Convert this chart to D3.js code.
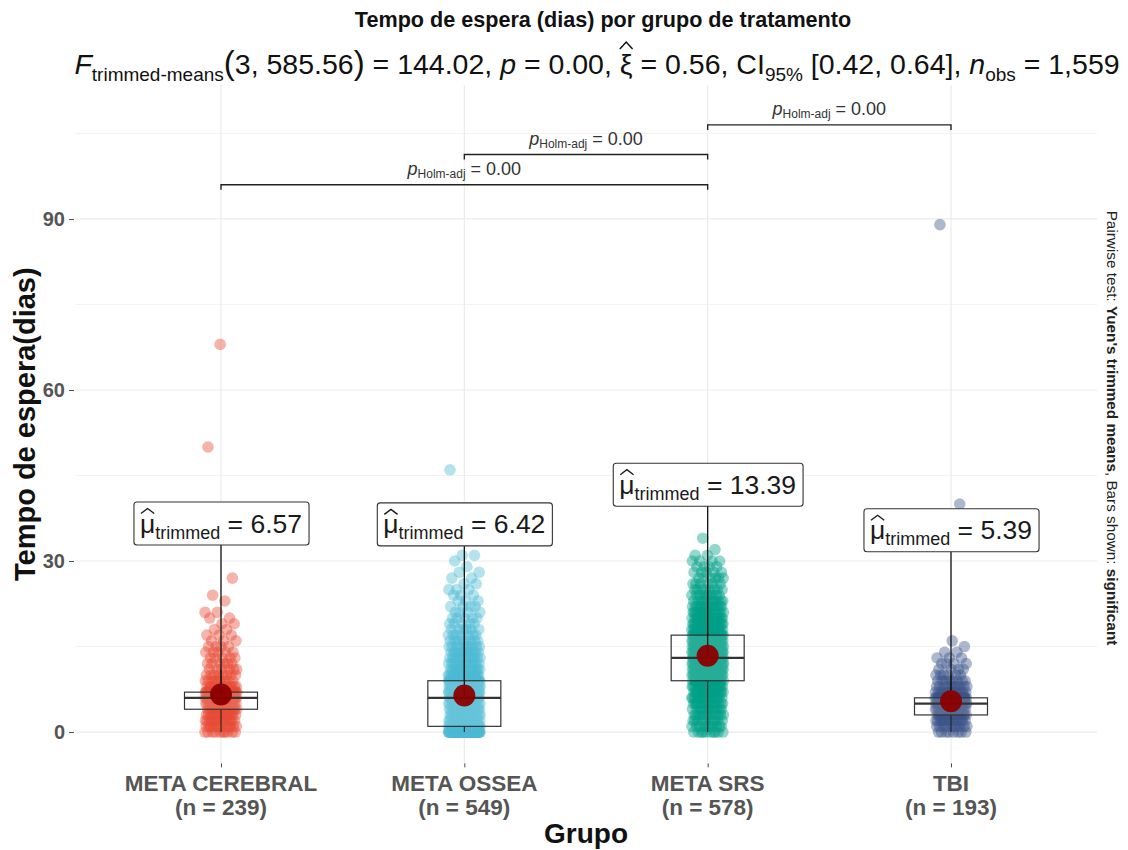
<!DOCTYPE html>
<html><head><meta charset="utf-8">
<script src="https://cdn.jsdelivr.net/npm/d3@7"></script>
<style>
body{margin:0;background:#fff}
svg{display:block}
text{font-family:"Liberation Sans",Arial,Helvetica,sans-serif;white-space:pre}
</style>
</head><body><svg id="chart" width="1128" height="850"></svg>
<script>
// ---------------- data ----------------
const categories = ["META CEREBRAL", "META OSSEA", "META SRS", "TBI"];
const sampleSizes = [239, 549, 578, 193];
const trimmedMeans = [6.57, 6.42, 13.39, 5.39];
const boxQ1 = [4, 1, 9, 3];
const boxMedian = [6, 6, 13, 5];
const boxQ3 = [7, 9, 17, 6];
const whiskerLow = [0, 0, 0, 0];
const whiskerHigh = [11, 21, 29, 10];
// counts of patients per waiting day (index = days), read from the point clouds
const cerebralCounts = [10,12,13,14,15,25,30,46,12,9,8,6,6,5,5,4,3,3,2,2,2,2,0,1,1,0,0,1];
const osseaCounts = [87,50,25,25,25,25,30,45,45,50,20,15,14,12,12,10,8,7,6,5,5,4,4,3,3,3,2,2,2,1,1,2];
const srsCounts = [10,10,10,12,12,14,16,18,20,22,35,35,37,38,38,37,35,34,22,20,18,15,13,11,9,8,6,6,5,4,4,2,1,0,1];
const tbiCounts = [8,10,14,16,22,28,40,14,10,8,6,4,4,3,2,1,1];
const cerebralOutliers = [68, 50];
const osseaOutliers = [46];
const srsOutliers = [];
const tbiOutliers = [89, 40];
const groupColors = ["#E64B35", "#4DBBD5", "#00A087", "#3C5488"];
const yTicks = [0, 30, 60, 90];
const yMinorTicks = [15, 45, 75, 105];
const bracketPairs = [["META CEREBRAL", "META SRS"], ["META OSSEA", "META SRS"], ["META SRS", "TBI"]];
const bracketLevels = [96, 101.3, 106.5];
const bracketP = ["0.00", "0.00", "0.00"];
const titleText = "Tempo de espera (dias) por grupo de tratamento";
const xTitle = "Grupo";
const yTitle = "Tempo de espera(dias)";

const countsByGroup = [cerebralCounts, osseaCounts, srsCounts, tbiCounts];
const outliersByGroup = [cerebralOutliers, osseaOutliers, srsOutliers, tbiOutliers];

// ---------------- layout ----------------
const svg = d3.select("#chart");
const x = d3.scalePoint().domain(categories).range([75, 1097]).padding(0.6);
const y = d3.scaleLinear().domain([-5.5, 113.5]).range([763.4, 85]);
const step = x.step();
const panel = {left: 75, right: 1097, top: 85, bottom: 763.4};

// grid
const grid = svg.append("g");
grid.selectAll("line.minor").data(yMinorTicks).join("line")
  .attr("x1", panel.left).attr("x2", panel.right)
  .attr("y1", d => y(d)).attr("y2", d => y(d))
  .attr("stroke", "#F3F3F3").attr("stroke-width", 1);
grid.selectAll("line.major").data(yTicks).join("line")
  .attr("x1", panel.left).attr("x2", panel.right)
  .attr("y1", d => y(d)).attr("y2", d => y(d))
  .attr("stroke", "#EBEBEB").attr("stroke-width", 1.2);
grid.selectAll("line.vert").data(categories).join("line")
  .attr("x1", d => x(d)).attr("x2", d => x(d))
  .attr("y1", panel.top).attr("y2", panel.bottom)
  .attr("stroke", "#EBEBEB").attr("stroke-width", 1.2);

// axes
const yAxis = d3.axisLeft(y).tickValues(yTicks).tickSize(5).tickPadding(4);
const gy = svg.append("g").attr("transform", `translate(${panel.left - 1},0)`).call(yAxis);
gy.select(".domain").remove();
gy.selectAll(".tick line").attr("stroke", "#4D4D4D");
gy.selectAll(".tick text").attr("font-size", 20).attr("font-weight", "bold").attr("fill", "#555555")
  .attr("font-family", '"Liberation Sans",Arial,sans-serif');

const xAxis = d3.axisBottom(x).tickSize(4).tickFormat("");
const gx = svg.append("g").attr("transform", `translate(0,${panel.bottom})`).call(xAxis);
gx.select(".domain").remove();
gx.selectAll(".tick line").attr("stroke", "#4D4D4D");
const xl = svg.append("g");
categories.forEach((c, i) => {
  const t = xl.append("text").attr("x", x(c)).attr("y", 791).attr("text-anchor", "middle")
    .attr("font-size", 22.5).attr("font-weight", "bold").attr("fill", "#555555");
  t.append("tspan").attr("x", x(c)).text(c);
  t.append("tspan").attr("x", x(c)).attr("dy", 24).text(`(n = ${sampleSizes[i]})`);
});

// points
const pts = [];
countsByGroup.forEach((counts, gi) => {
  let k = 0;
  counts.forEach((c, v) => {
    for (let n = 0; n < c; n++) { pts.push({g: gi, v: v, k: k}); k++; }
  });
  outliersByGroup[gi].forEach(v => { pts.push({g: gi, v: v, k: k}); k++; });
});
const jitterHalf = 16;
function jit(d) { const f = (d.k * 0.6180339887 + d.g * 0.37) % 1; return (f - 0.5) * 2 * jitterHalf; }
svg.append("g").selectAll("circle").data(pts).join("circle")
  .attr("cx", d => x(categories[d.g]) + jit(d))
  .attr("cy", d => y(d.v))
  .attr("r", 5.8)
  .attr("fill", d => groupColors[d.g])
  .attr("fill-opacity", 0.42);

// boxplots
const boxW = step * 0.3;
const bx = svg.append("g");
categories.forEach((c, i) => {
  const cx = x(c);
  bx.append("line").attr("x1", cx).attr("x2", cx).attr("y1", y(boxQ3[i])).attr("y2", y(whiskerHigh[i]))
    .attr("stroke", "#222").attr("stroke-width", 1.1);
  bx.append("line").attr("x1", cx).attr("x2", cx).attr("y1", y(boxQ1[i])).attr("y2", y(whiskerLow[i]))
    .attr("stroke", "#222").attr("stroke-width", 1.1);
  bx.append("rect").attr("x", cx - boxW / 2).attr("width", boxW)
    .attr("y", y(boxQ3[i])).attr("height", y(boxQ1[i]) - y(boxQ3[i]))
    .attr("fill", "#fff").attr("fill-opacity", 0.15).attr("stroke", "#333").attr("stroke-width", 1.2);
  bx.append("line").attr("x1", cx - boxW / 2).attr("x2", cx + boxW / 2)
    .attr("y1", y(boxMedian[i])).attr("y2", y(boxMedian[i]))
    .attr("stroke", "#333").attr("stroke-width", 2.2);
});

// mean labels
const labelNudge = 30; // data units above the mean
const lg = svg.append("g");
categories.forEach((c, i) => {
  const cx = x(c);
  const my = y(trimmedMeans[i]);
  const ly = y(trimmedMeans[i] + labelNudge);
  lg.append("line").attr("x1", cx).attr("x2", cx).attr("y1", ly + 21).attr("y2", my)
    .attr("stroke", "#111").attr("stroke-width", 1.3);
  lg.append("circle").attr("cx", cx).attr("cy", my).attr("r", 11).attr("fill", "#8B0000").attr("fill-opacity", 0.95);
  const g = lg.append("g");
  const rect = g.append("rect");
  const t = g.append("text").attr("x", cx).attr("y", ly + 9).attr("text-anchor", "middle")
    .attr("font-size", 26.5).attr("fill", "#1a1a1a");
  t.append("tspan").text("μ");
  t.append("tspan").attr("font-size", 18).attr("dy", 6).text("trimmed");
  t.append("tspan").attr("dy", -6).text(" = " + trimmedMeans[i].toFixed(2));
  const bb = t.node().getBBox();
  rect.attr("x", bb.x - 6).attr("width", bb.width + 13).attr("y", ly - 21.5).attr("height", 43)
    .attr("rx", 3).attr("fill", "#fff").attr("stroke", "#333").attr("stroke-width", 1.1);
  const mu = t.node().getExtentOfChar(0);
  const hx0 = mu.x + 1, hx1 = mu.x + mu.width - 1, hy = ly - 15;
  g.append("path").attr("d", `M${hx0},${hy + 5}L${(hx0 + hx1) / 2},${hy}L${hx1},${hy + 5}`)
    .attr("fill", "none").attr("stroke", "#1a1a1a").attr("stroke-width", 1.4);
});

// brackets
const br = svg.append("g");
bracketPairs.forEach((p, i) => {
  const x1 = x(p[0]), x2 = x(p[1]), by = y(bracketLevels[i]);
  br.append("path").attr("d", `M${x1},${by + 5}V${by}H${x2}V${by + 5}`)
    .attr("fill", "none").attr("stroke", "#222").attr("stroke-width", 1.4);
  const t = br.append("text").attr("x", (x1 + x2) / 2).attr("y", by - 10).attr("text-anchor", "middle")
    .attr("font-size", 18).attr("fill", "#333");
  t.append("tspan").attr("font-style", "italic").text("p");
  t.append("tspan").attr("font-size", 12).attr("dy", 3).text("Holm-adj");
  t.append("tspan").attr("dy", -3).text(" = " + bracketP[i]);
});

// titles
svg.append("text").attr("x", 603).attr("y", 27).attr("text-anchor", "middle")
  .attr("font-size", 21.6).attr("font-weight", "bold").attr("fill", "#111").text(titleText);

const sub = svg.append("text").attr("x", 597).attr("y", 74).attr("text-anchor", "middle")
  .attr("font-size", 28.5).attr("fill", "#111");
sub.append("tspan").attr("font-style", "italic").text("F");
sub.append("tspan").attr("font-size", 19).attr("dy", 7).text("trimmed-means");
sub.append("tspan").attr("dy", -7).attr("font-size", 33).text("(");
sub.append("tspan").text("3, 585.56");
sub.append("tspan").attr("font-size", 33).text(")");
sub.append("tspan").text(" = 144.02, ");
sub.append("tspan").attr("font-style", "italic").text("p");
sub.append("tspan").text(" = 0.00, ");
sub.append("tspan").text("ξ");
sub.append("tspan").text(" = 0.56, CI");
sub.append("tspan").attr("font-size", 19).attr("dy", 7).text("95%");
sub.append("tspan").attr("dy", -7).text(" [0.42, 0.64], ");
sub.append("tspan").attr("font-style", "italic").text("n");
sub.append("tspan").attr("font-size", 19).attr("dy", 7).text("obs");
sub.append("tspan").attr("dy", -7).text(" = 1,559");
{
  const full = sub.node().textContent;
  const xi = sub.node().getExtentOfChar(full.indexOf("ξ"));
  const hx0 = xi.x, hx1 = xi.x + xi.width, hy = 42;
  svg.append("path").attr("d", `M${hx0},${hy + 7}L${(hx0 + hx1) / 2},${hy}L${hx1},${hy + 7}`)
    .attr("fill", "none").attr("stroke", "#111").attr("stroke-width", 1.5);
}

svg.append("text").attr("x", 586).attr("y", 843).attr("text-anchor", "middle")
  .attr("font-size", 28).attr("font-weight", "bold").attr("fill", "#111").text(xTitle);
svg.append("text").attr("transform", `translate(35,${(panel.top + panel.bottom) / 2}) rotate(-90)`)
  .attr("text-anchor", "middle").attr("font-size", 29).attr("font-weight", "bold").attr("fill", "#111").text(yTitle);

const cap = svg.append("text").attr("transform", "translate(1107,428) rotate(90)")
  .attr("text-anchor", "middle").attr("font-size", 15.3).attr("fill", "#222");
cap.append("tspan").text("Pairwise test: ");
cap.append("tspan").attr("font-weight", "bold").text("Yuen's trimmed means");
cap.append("tspan").text(", Bars shown: ");
cap.append("tspan").attr("font-weight", "bold").text("significant");
</script></body></html>
